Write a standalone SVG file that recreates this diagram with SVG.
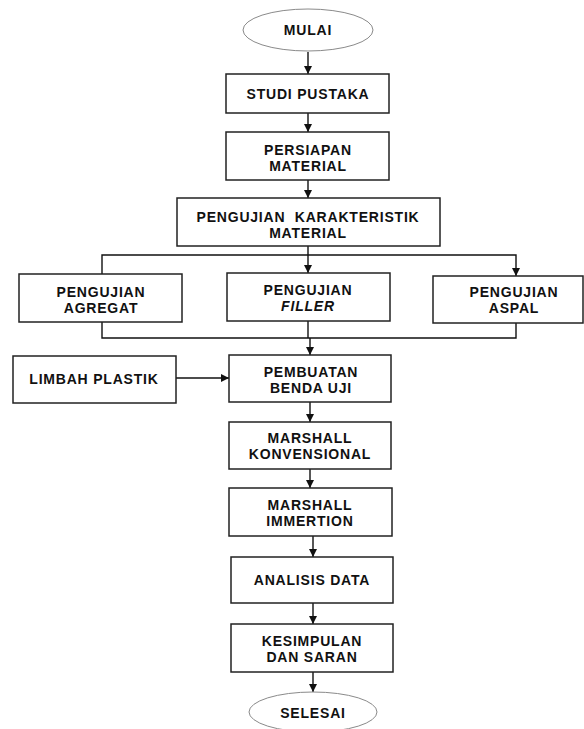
<svg xmlns="http://www.w3.org/2000/svg" width="584" height="729" viewBox="0 0 584 729">
<style>
.box{fill:#fff;stroke:#222;stroke-width:1.5}
.ell{fill:#fff;stroke:#8a8a8a;stroke-width:1}
.t{font-family:"Liberation Sans",Arial,sans-serif;font-weight:bold;font-size:14px;fill:#111;text-anchor:middle;letter-spacing:0.8px}
.it{font-style:italic}
.c{fill:none;stroke:#111;stroke-width:1.4}
</style>
<defs>
<marker id="ah" viewBox="0 0 10 10" refX="10" refY="5" markerWidth="8" markerHeight="8" markerUnits="userSpaceOnUse" orient="auto">
<path d="M0,0 L10,5 L0,10 Z" fill="#111"/>
</marker>
</defs>
<rect width="584" height="729" fill="#fff"/>
<g id="connectors">
<path class="c" d="M308,52 V74" marker-end="url(#ah)"/>
<path class="c" d="M308,113 V132" marker-end="url(#ah)"/>
<path class="c" d="M308,180 V198" marker-end="url(#ah)"/>
<path class="c" d="M308,246 V273" marker-end="url(#ah)"/>
<path class="c" d="M102,274 V255 H516 V276" marker-end="url(#ah)"/>
<path class="c" d="M102,322 V338 H516 V323"/>
<path class="c" d="M308,321 V338"/>
<path class="c" d="M310,338 V355" marker-end="url(#ah)"/>
<path class="c" d="M176,378 H229" marker-end="url(#ah)"/>
<path class="c" d="M310,402 V422" marker-end="url(#ah)"/>
<path class="c" d="M310,469 V488" marker-end="url(#ah)"/>
<path class="c" d="M313,536 V557" marker-end="url(#ah)"/>
<path class="c" d="M313,603 V624" marker-end="url(#ah)"/>
<path class="c" d="M313,672 V692" marker-end="url(#ah)"/>
</g>
<g id="mulai"><ellipse class="ell" cx="308" cy="30" rx="65" ry="21"/><text class="t" x="308" y="35">MULAI</text></g>
<g id="studi"><rect class="box" x="226" y="74" width="163" height="39"/><text class="t" x="308" y="99">STUDI PUSTAKA</text></g>
<g id="persiapan"><rect class="box" x="226" y="132" width="163" height="48"/><text class="t" x="308" y="155">PERSIAPAN</text><text class="t" x="308" y="171">MATERIAL</text></g>
<g id="karakteristik"><rect class="box" x="177" y="198" width="263" height="48"/><text class="t" x="308" y="222" xml:space="preserve">PENGUJIAN  KARAKTERISTIK</text><text class="t" x="308" y="238">MATERIAL</text></g>
<g id="agregat"><rect class="box" x="19" y="274" width="163" height="48"/><text class="t" x="101" y="297">PENGUJIAN</text><text class="t" x="101" y="313">AGREGAT</text></g>
<g id="filler"><rect class="box" x="227" y="273" width="163" height="48"/><text class="t" x="308" y="295">PENGUJIAN</text><text class="t it" x="308" y="311">FILLER</text></g>
<g id="aspal"><rect class="box" x="433" y="276" width="150" height="47"/><text class="t" x="514" y="297">PENGUJIAN</text><text class="t" x="514" y="313">ASPAL</text></g>
<g id="limbah"><rect class="box" x="13" y="356" width="163" height="47"/><text class="t" x="94" y="384">LIMBAH PLASTIK</text></g>
<g id="pembuatan"><rect class="box" x="229" y="355" width="162" height="47"/><text class="t" x="311" y="377">PEMBUATAN</text><text class="t" x="311" y="393">BENDA UJI</text></g>
<g id="konvensional"><rect class="box" x="229" y="422" width="162" height="47"/><text class="t" x="310" y="443">MARSHALL</text><text class="t" x="310" y="459">KONVENSIONAL</text></g>
<g id="immertion"><rect class="box" x="229" y="488" width="163" height="48"/><text class="t" x="310" y="510">MARSHALL</text><text class="t" x="310" y="526">IMMERTION</text></g>
<g id="analisis"><rect class="box" x="231" y="557" width="162" height="46"/><text class="t" x="312" y="585">ANALISIS DATA</text></g>
<g id="kesimpulan"><rect class="box" x="231" y="624" width="162" height="48"/><text class="t" x="312" y="646">KESIMPULAN</text><text class="t" x="312" y="662">DAN SARAN</text></g>
<g id="selesai"><ellipse class="ell" cx="313" cy="712" rx="64" ry="20"/><text class="t" x="313" y="718">SELESAI</text></g>
</svg>
